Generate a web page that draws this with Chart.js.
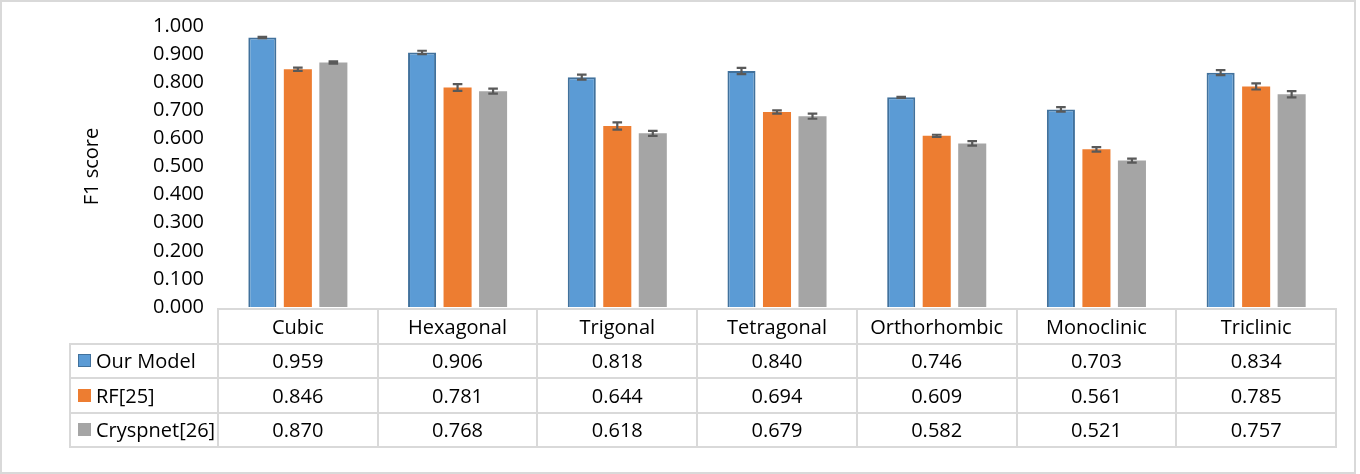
<!DOCTYPE html>
<html><head><meta charset="utf-8">
<script src="https://cdn.jsdelivr.net/npm/chart.js@4.4.0/dist/chart.umd.min.js"></script>
<style>
html,body{margin:0;padding:0;background:#fff;}
#wrap{position:relative;width:1360px;height:474px;overflow:hidden;font-family:"Open Sans",sans-serif;}
#frame{position:absolute;left:0;top:0;width:1356px;height:474px;box-sizing:border-box;border:2px solid #d9d9d9;pointer-events:none;}
canvas{position:absolute;left:0;top:0;}
.cell{position:absolute;display:flex;align-items:center;justify-content:center;font-size:20px;color:#000;white-space:nowrap;}
.lcell{justify-content:flex-start;}
.sw{display:inline-block;width:13px;height:13px;margin-right:5px;box-sizing:border-box;}
.ln{position:absolute;background:#d9d9d9;}
</style></head><body>
<div id="wrap"><canvas id="c" width="1360" height="474"></canvas><div id="tbl"></div><div id="frame"></div></div>
<script>
const categories = ['Cubic','Hexagonal','Trigonal','Tetragonal','Orthorhombic','Monoclinic','Triclinic'];
const seriesNames = ['Our Model','RF[25]','Cryspnet[26]'];
const ourModel = [0.959, 0.906, 0.818, 0.840, 0.746, 0.703, 0.834];
const rf25 = [0.846, 0.781, 0.644, 0.694, 0.609, 0.561, 0.785];
const cryspnet = [0.870, 0.768, 0.618, 0.679, 0.582, 0.521, 0.757];
const ourModelErr = [0.002, 0.006, 0.009, 0.011, 0.002, 0.008, 0.009];
const rf25Err = [0.006, 0.012, 0.013, 0.006, 0.004, 0.008, 0.011];
const cryspnetErr = [0.004, 0.009, 0.009, 0.009, 0.008, 0.007, 0.011];
const yTitle = 'F1 score';
const colors = ['#5B9BD5', '#ED7D31', '#A5A5A5'];

const errorBars = {
  id: 'errorBars',
  afterDatasetsDraw(chart) {
    const ctx = chart.ctx, y = chart.scales.y;
    chart.data.datasets.forEach((ds, di) => {
      const meta = chart.getDatasetMeta(di);
      meta.data.forEach((bar, i) => {
        const v = ds.data[i], e = ds.errors[i];
        const yT = y.getPixelForValue(v + e), yB = y.getPixelForValue(v - e);
        ctx.save();
        ctx.strokeStyle = '#595959';
        ctx.lineWidth = 2.2;
        ctx.beginPath();
        ctx.moveTo(bar.x, yT); ctx.lineTo(bar.x, yB);
        ctx.moveTo(bar.x - 4.8, yT); ctx.lineTo(bar.x + 4.8, yT);
        ctx.moveTo(bar.x - 4.8, yB); ctx.lineTo(bar.x + 4.8, yB);
        ctx.stroke();
        ctx.restore();
      });
    });
  }
};

const chart = new Chart(document.getElementById('c'), {
  type: 'bar',
  data: {
    labels: categories,
    datasets: [
      {label: seriesNames[0], data: ourModel, errors: ourModelErr, backgroundColor: colors[0], borderColor: '#41719C', borderWidth: 2},
      {label: seriesNames[1], data: rf25, errors: rf25Err, backgroundColor: colors[1], borderWidth: 0},
      {label: seriesNames[2], data: cryspnet, errors: cryspnetErr, backgroundColor: colors[2], borderWidth: 0}
    ]
  },
  options: {
    responsive: false,
    animation: false,
    devicePixelRatio: 1,
    layout: {padding: {left: 0, right: 24, top: 26, bottom: 167}},
    datasets: {bar: {categoryPercentage: 0.667, barPercentage: 0.79}},
    plugins: {legend: {display: false}, tooltip: {enabled: false}},
    scales: {
      x: {display: false},
      y: {
        min: 0, max: 1,
        afterFit(s) { s.width = 218; },
        grid: {display: false, drawTicks: false},
        border: {display: false},
        ticks: {stepSize: 0.1, padding: 14, color: '#000', font: {family: 'Open Sans', size: 20},
                callback: v => Number(v).toFixed(3)},
        title: {display: true, text: yTitle, color: '#000', font: {family: 'Open Sans', size: 20}, padding: {top: 80, bottom: 0}}
      }
    }
  },
  plugins: [errorBars]
});

(function buildTable() {
  const tbl = document.getElementById('tbl');
  const xs = chart.scales.x, ca = chart.chartArea;
  const colW = (ca.right - ca.left) / categories.length;
  const rowH = 34.5;
  const top0 = ca.bottom + 2;
  const leftX = 70;
  const seriesData = [ourModel, rf25, cryspnet];
  function line(x, y, w, h) {
    const d = document.createElement('div'); d.className = 'ln';
    d.style.left = x + 'px'; d.style.top = y + 'px'; d.style.width = w + 'px'; d.style.height = h + 'px';
    tbl.appendChild(d);
  }
  function cell(x, y, w, h, html, cls) {
    const d = document.createElement('div'); d.className = 'cell' + (cls ? ' ' + cls : '');
    d.style.left = x + 'px'; d.style.top = y + 'px'; d.style.width = w + 'px'; d.style.height = h + 'px';
    d.innerHTML = html; tbl.appendChild(d);
  }
  categories.forEach((c, i) => {
    const cx = xs.getPixelForValue(i);
    cell(cx - colW / 2, top0, colW, rowH, c);
  });
  seriesData.forEach((arr, s) => {
    const y = top0 + rowH * (s + 1);
    const bord = s === 0 ? 'border:1px solid #41719C;' : '';
    cell(leftX + 8, y, ca.left - leftX - 8, rowH,
      '<span class="sw" style="background:' + colors[s] + ';' + bord + '"></span>' + seriesNames[s], 'lcell');
    arr.forEach((v, i) => {
      const cx = xs.getPixelForValue(i);
      cell(cx - colW / 2, y, colW, rowH, v.toFixed(3));
    });
  });
  line(ca.left - 1, top0 - 1, ca.right - ca.left + 2, 2);
  for (let r = 1; r <= 4; r++) line(leftX - 1, top0 + rowH * r - 1, ca.right - leftX + 2, 2);
  for (let i = 0; i <= categories.length; i++) {
    const x = ca.left + colW * i;
    line(x - 1, top0 - 1, 2, rowH * 4 + 2);
  }
  line(leftX - 1, top0 + rowH - 1, 2, rowH * 3 + 2);
})();
</script>
</body></html>
